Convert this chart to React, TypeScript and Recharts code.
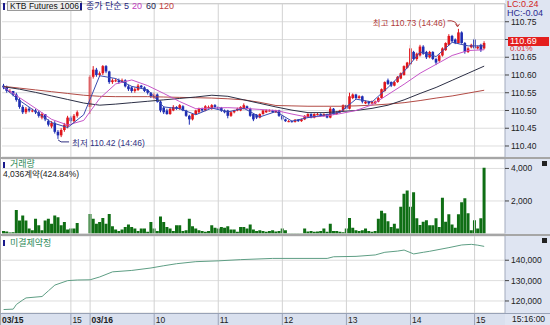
import {
  ComposedChart,
  Bar,
  Line,
  XAxis,
  YAxis,
  CartesianGrid,
  ReferenceLine,
  ReferenceDot,
} from "recharts";

const FONT = "'Liberation Sans', Arial, 'Noto Sans CJK KR', sans-serif";
const UP = "#e0161c";
const DOWN = "#1e2db3";
const VOL = "#0f6e14";
const OI = "#5e9e84";
const MA5 = "#3a4bb0";
const MA20 = "#c655c8";
const MA60 = "#2c2f45";
const MA120 = "#b24b45";
const SLOTS = 157;

// 3-minute candles, [open, high, low, close]; 03/15 = 0..23, 03/16 = 27..150
const ohlc: (number[] | null)[] = [
  [110.570, 110.575, 110.560, 110.565], [110.565, 110.570, 110.550, 110.555], [110.555, 110.560, 110.550, 110.555], [110.555, 110.555, 110.540, 110.545], [110.545, 110.550, 110.525, 110.530],
  [110.530, 110.535, 110.505, 110.510], [110.510, 110.515, 110.490, 110.495], [110.495, 110.510, 110.490, 110.505], [110.505, 110.510, 110.495, 110.500], [110.500, 110.505, 110.495, 110.500],
  [110.500, 110.505, 110.490, 110.495], [110.495, 110.500, 110.480, 110.485], [110.480, 110.495, 110.475, 110.490], [110.490, 110.490, 110.470, 110.475], [110.470, 110.475, 110.455, 110.460],
  [110.455, 110.470, 110.450, 110.465], [110.465, 110.470, 110.435, 110.440], [110.440, 110.445, 110.420, 110.430], [110.430, 110.450, 110.425, 110.445], [110.445, 110.465, 110.440, 110.460],
  [110.455, 110.485, 110.450, 110.480], [110.480, 110.485, 110.465, 110.470], [110.470, 110.490, 110.465, 110.485], [110.485, 110.500, 110.480, 110.495],
  null, null, null,
  [110.510, 110.600, 110.490, 110.595], [110.595, 110.625, 110.590, 110.615], [110.615, 110.620, 110.595, 110.600],
  [110.600, 110.610, 110.595, 110.605], [110.605, 110.628, 110.600, 110.625], [110.625, 110.628, 110.605, 110.610], [110.610, 110.612, 110.575, 110.580], [110.580, 110.590, 110.575, 110.585],
  [110.585, 110.590, 110.580, 110.585], [110.585, 110.590, 110.575, 110.580], [110.580, 110.590, 110.578, 110.585], [110.585, 110.588, 110.565, 110.568], [110.568, 110.572, 110.555, 110.560],
  [110.565, 110.568, 110.550, 110.555], [110.555, 110.565, 110.550, 110.560], [110.558, 110.575, 110.555, 110.570], [110.570, 110.572, 110.562, 110.565], [110.565, 110.568, 110.552, 110.555],
  [110.558, 110.560, 110.545, 110.550], [110.550, 110.552, 110.535, 110.540], [110.535, 110.550, 110.532, 110.545], [110.545, 110.548, 110.522, 110.525], [110.525, 110.528, 110.495, 110.500],
  [110.508, 110.512, 110.490, 110.495], [110.500, 110.505, 110.488, 110.490], [110.490, 110.508, 110.488, 110.505], [110.500, 110.515, 110.498, 110.510], [110.510, 110.512, 110.502, 110.505],
  [110.505, 110.518, 110.502, 110.515], [110.512, 110.515, 110.498, 110.500], [110.500, 110.502, 110.482, 110.485], [110.485, 110.488, 110.460, 110.475], [110.475, 110.492, 110.472, 110.490],
  [110.490, 110.502, 110.488, 110.500], [110.495, 110.508, 110.492, 110.505], [110.505, 110.508, 110.496, 110.500], [110.500, 110.515, 110.498, 110.512], [110.510, 110.514, 110.505, 110.510],
  [110.505, 110.518, 110.502, 110.515], [110.515, 110.518, 110.506, 110.510], [110.510, 110.512, 110.502, 110.505], [110.508, 110.510, 110.496, 110.500], [110.500, 110.503, 110.492, 110.495],
  [110.500, 110.502, 110.478, 110.485], [110.485, 110.498, 110.482, 110.495], [110.495, 110.502, 110.492, 110.500], [110.500, 110.508, 110.498, 110.505], [110.500, 110.512, 110.498, 110.510],
  [110.505, 110.520, 110.503, 110.515], [110.512, 110.514, 110.503, 110.505], [110.505, 110.508, 110.482, 110.485], [110.490, 110.492, 110.470, 110.475], [110.488, 110.490, 110.476, 110.480],
  [110.480, 110.492, 110.478, 110.490], [110.490, 110.502, 110.488, 110.500], [110.495, 110.503, 110.493, 110.500], [110.500, 110.503, 110.497, 110.500], [110.500, 110.502, 110.493, 110.495],
  [110.495, 110.502, 110.493, 110.500], [110.500, 110.502, 110.482, 110.485], [110.485, 110.487, 110.472, 110.475], [110.475, 110.477, 110.468, 110.470], [110.470, 110.473, 110.467, 110.470],
  [110.470, 110.472, 110.466, 110.468], [110.468, 110.476, 110.466, 110.474], [110.474, 110.476, 110.468, 110.470], [110.470, 110.477, 110.468, 110.475], [110.475, 110.487, 110.473, 110.485],
  [110.482, 110.492, 110.480, 110.490], [110.490, 110.492, 110.478, 110.480], [110.480, 110.492, 110.478, 110.490], [110.490, 110.493, 110.486, 110.490], [110.490, 110.492, 110.482, 110.485],
  [110.485, 110.492, 110.483, 110.490], [110.490, 110.491, 110.478, 110.480], [110.480, 110.510, 110.478, 110.505], [110.505, 110.507, 110.488, 110.490], [110.490, 110.498, 110.488, 110.495],
  [110.495, 110.502, 110.493, 110.500], [110.500, 110.517, 110.498, 110.515], [110.515, 110.517, 110.503, 110.505], [110.505, 110.550, 110.503, 110.540], [110.535, 110.548, 110.532, 110.545],
  [110.545, 110.547, 110.532, 110.535], [110.535, 110.543, 110.533, 110.540], [110.540, 110.542, 110.520, 110.525], [110.520, 110.528, 110.518, 110.525], [110.525, 110.527, 110.516, 110.520],
  [110.520, 110.528, 110.518, 110.525], [110.520, 110.528, 110.518, 110.525], [110.525, 110.538, 110.523, 110.535], [110.535, 110.562, 110.533, 110.560], [110.555, 110.582, 110.553, 110.580],
  [110.585, 110.590, 110.572, 110.575], [110.580, 110.582, 110.566, 110.570], [110.570, 110.583, 110.568, 110.580], [110.580, 110.597, 110.578, 110.595], [110.590, 110.607, 110.588, 110.605],
  [110.600, 110.627, 110.598, 110.625], [110.620, 110.637, 110.618, 110.635], [110.630, 110.685, 110.628, 110.675], [110.665, 110.668, 110.642, 110.645], [110.645, 110.663, 110.640, 110.660],
  [110.655, 110.685, 110.652, 110.680], [110.680, 110.684, 110.657, 110.660], [110.665, 110.668, 110.645, 110.650], [110.650, 110.668, 110.647, 110.665], [110.665, 110.667, 110.642, 110.645],
  [110.645, 110.648, 110.628, 110.635], [110.640, 110.658, 110.637, 110.655], [110.655, 110.678, 110.652, 110.675], [110.670, 110.692, 110.668, 110.690], [110.685, 110.715, 110.683, 110.710],
  [110.710, 110.713, 110.692, 110.695], [110.700, 110.703, 110.687, 110.690], [110.690, 110.730, 110.688, 110.720], [110.720, 110.723, 110.688, 110.690], [110.690, 110.693, 110.660, 110.665],
  [110.665, 110.678, 110.662, 110.675], [110.678, 110.688, 110.675, 110.685], [110.700, 110.705, 110.672, 110.675], [110.675, 110.683, 110.672, 110.680], [110.685, 110.688, 110.665, 110.670],
  [110.675, 110.695, 110.672, 110.690],
];

const volumes: (number | null)[] = [
  150, 120, 60, 80, 1450, 800, 1100, 800, 300, 200,
  900, 500, 200, 800, 900, 600, 1100, 1000, 500, 700,
  250, 300, 300, 650, null, null, null, 1200, 900, 600,
  700, 950, 600, 1200, 450, 250, 150, 250, 400, 550,
  400, 300, 150, 300, 300, 100, 700, 300, 150, 1050,
  700, 400, 300, 150, 500, 500, 150, 200, 900, 450,
  300, 200, 150, 100, 150, 500, 350, 300, 400, 350,
  450, 250, 250, 100, 400, 400, 300, 550, 250, 150,
  200, 150, 100, 150, 200, 120, 150, 300, 200, 20,
  20, 20, 20, 20, 300, 120, 150, 100, 120, 150,
  300, 100, 600, 150, 150, 100, 80, 300, 950, 350,
  200, 150, 200, 300, 150, 100, 150, 900, 1400, 1250,
  750, 400, 600, 300, 1650, 2450, 2640, 1650, 2540, 930,
  520, 720, 820, 500, 500, 930, 400, 2200, 720, 1180,
  560, 350, 1180, 1920, 2160, 1240, 200, 820, 300, 930,
  4036,
];

// moving averages read every 5 candles
const maIdx = [0, 5, 10, 15, 20, 25, 30, 35, 40, 45, 50, 55, 60, 65, 70, 75, 80, 85, 90, 95, 100, 105, 110, 115, 120, 125, 130, 135, 140, 145, 150];
const ma5 = [110.565, 110.528, 110.497, 110.466, 110.452, 110.488, 110.598, 110.590, 110.568, 110.558, 110.510, 110.505, 110.488, 110.507, 110.496, 110.506, 110.482, 110.497, 110.470, 110.480, 110.487, 110.495, 110.532, 110.524, 110.565, 110.610, 110.665, 110.652, 110.692, 110.682, 110.682];
const ma20 = [110.566, 110.536, 110.506, 110.475, 110.459, 110.472, 110.534, 110.575, 110.586, 110.570, 110.548, 110.525, 110.505, 110.507, 110.508, 110.506, 110.503, 110.500, 110.490, 110.481, 110.484, 110.491, 110.500, 110.516, 110.545, 110.574, 110.605, 110.630, 110.655, 110.669, 110.671];
const ma60 = [110.567, 110.560, 110.551, 110.541, 110.531, 110.521, 110.515, 110.518, 110.522, 110.526, 110.530, 110.534, 110.538, 110.543, 110.540, 110.530, 110.520, 110.510, 110.501, 110.494, 110.494, 110.497, 110.500, 110.506, 110.515, 110.530, 110.548, 110.565, 110.585, 110.605, 110.625];
const ma120 = [110.568, 110.563, 110.558, 110.553, 110.548, 110.543, 110.540, 110.539, 110.539, 110.539, 110.538, 110.537, 110.536, 110.535, 110.533, 110.530, 110.523, 110.514, 110.513, 110.512, 110.512, 110.512, 110.513, 110.515, 110.518, 110.522, 110.528, 110.535, 110.541, 110.549, 110.557];

// open interest
const oiIdx = [0, 3, 4, 6, 7, 12, 14, 16, 20, 23, 27, 30, 34, 40, 46, 50, 54, 60, 67, 74, 84, 101, 103, 110, 116, 119, 123, 125, 128, 131, 133, 139, 143, 146, 148, 150];
const oiVal = [115800, 116000, 118300, 120500, 121500, 122200, 125000, 127800, 130000, 130300, 130400, 131800, 134300, 135000, 136200, 137300, 138300, 139300, 139700, 140300, 140900, 140900, 141700, 141900, 142600, 143900, 144500, 145000, 143100, 143900, 144400, 146200, 147500, 147800, 147400, 146800];

const xTickIdx = [0, 21, 27, 47, 67, 87, 107, 127, 147];
const xTickLabels = ["03/15", "15", "03/16", "10", "11", "12", "13", "14", "15"];
const priceTicks = [110.4, 110.45, 110.5, 110.55, 110.6, 110.65, 110.7, 110.75];
const volTicks = [2000, 4000];
const oiTicks = [120000, 130000, 140000];

const rows = Array.from({ length: SLOTS }, (_, i) => {
  const k = ohlc[i];
  const m = maIdx.indexOf(i);
  const q = oiIdx.indexOf(i);
  return {
    i,
    o: k ? k[0] : null,
    h: k ? k[1] : null,
    l: k ? k[2] : null,
    c: k ? k[3] : null,
    hl: k ? [k[2], k[1]] : null,
    vol: volumes[i] ?? null,
    ma5: m >= 0 ? ma5[m] : null,
    ma20: m >= 0 ? ma20[m] : null,
    ma60: m >= 0 ? ma60[m] : null,
    ma120: m >= 0 ? ma120[m] : null,
    oi: q >= 0 ? oiVal[q] : null,
  };
});

const Candle = (props: any) => {
  const { x, y, width, height, payload } = props;
  if (!payload || payload.o == null) return null;
  const { o, h, l, c } = payload;
  const top = Math.min(y, y + height);
  const hh = Math.abs(height);
  const span = h - l;
  const py = (v: number) => (span > 0 ? top + ((h - v) / span) * hh : top);
  const color = c >= o ? UP : DOWN;
  const cx = x + width / 2;
  const bt = py(Math.max(o, c));
  const bb = py(Math.min(o, c));
  return (
    <g>
      <line x1={cx} x2={cx} y1={top} y2={top + hh} stroke={color} strokeWidth={1} />
      <rect x={cx - 1.3} y={bt} width={2.6} height={Math.max(bb - bt, 1)} fill={color} />
    </g>
  );
};

const TimeTick = (props: any) => {
  const { x, y, payload } = props;
  const k = xTickIdx.indexOf(payload.value);
  if (k < 0) return null;
  const label = xTickLabels[k];
  return (
    <g>
      {k > 0 && <line x1={x} x2={x} y1={y} y2={y + 12} stroke="#9aa3b8" />}
      <text
        x={k === 0 ? x - 1.5 : x + 1.5}
        y={y + 9.5}
        fontSize={8.5}
        fontFamily={FONT}
        fontWeight={label.includes("/") ? "bold" : "normal"}
        fill="#222"
      >
        {label}
      </text>
    </g>
  );
};

const LowMark = (p: any) => (
  <g>
    <path d={`M${p.cx},${p.cy + 1} L${p.cx + 3},${p.cy + 3} L${p.cx + 11},${p.cy + 3}`} stroke="#303080" fill="none" />
    <text x={p.cx + 14} y={p.cy + 7} fontSize={8.5} fontFamily={FONT} fill="#303080">
      최저 110.42 (14:46)
    </text>
  </g>
);

const HighMark = (p: any) => (
  <g>
    <path d={`M${p.cx - 11},${p.cy - 8} Q${p.cx - 3},${p.cy - 9} ${p.cx - 1},${p.cy - 3}`} stroke="#b03a3a" fill="none" />
    <path d={`M${p.cx - 3},${p.cy - 5} L${p.cx - 1},${p.cy - 2} L${p.cx + 1},${p.cy - 5}`} stroke="#b03a3a" fill="none" />
    <text x={p.cx - 13} y={p.cy - 3} fontSize={8.5} fontFamily={FONT} fill="#b03a3a" textAnchor="end">
      최고 110.73 (14:46)
    </text>
  </g>
);

const axisTick = { fontSize: 8.5, fill: "#222", fontFamily: FONT };
const fmtThousands = (v: number) => v.toLocaleString("en-US");

const abs = (left: number, top: number, extra: any = {}) => ({ position: "absolute" as const, left, top, ...extra });

export default function App() {
  return (
    <div style={{ position: "absolute", left: 0, top: 0, width: 550, height: 325, background: "#fff", overflow: "hidden", fontFamily: FONT }}>
      <div style={abs(505, 0, { width: 45, height: 325, background: "#dfe5f2" })} />
      <div style={abs(0, 313, { width: 505, height: 12, background: "#d9e0ee" })} />

      <div style={abs(0, 0)}>
        <ComposedChart width={550} height={158} data={rows} margin={{ top: 4, right: 0, bottom: 1, left: 2 }}>
          <CartesianGrid vertical={false} stroke="#dedede" />
          <XAxis dataKey="i" type="category" hide />
          <YAxis
            orientation="right"
            width={45}
            domain={[110.369, 110.8]}
            allowDataOverflow
            ticks={priceTicks}
            interval={0}
            tickFormatter={(v: number) => v.toFixed(2)}
            tick={axisTick}
            tickSize={4}
            tickMargin={2}
            tickLine={{ stroke: "#444" }}
            axisLine={{ stroke: "#a3abbd" }}
          />
          {xTickIdx.slice(1).map((t) => (
            <ReferenceLine key={t} x={t} stroke="#d2d2d2" />
          ))}
          <Line dataKey="ma120" stroke={MA120} dot={false} connectNulls strokeWidth={1} isAnimationActive={false} />
          <Line dataKey="ma60" stroke={MA60} dot={false} connectNulls strokeWidth={1} isAnimationActive={false} />
          <Line dataKey="ma20" stroke={MA20} dot={false} connectNulls strokeWidth={1} isAnimationActive={false} />
          <Line dataKey="ma5" stroke={MA5} dot={false} connectNulls strokeWidth={1} isAnimationActive={false} />
          <Bar dataKey="hl" barSize={3} shape={Candle} isAnimationActive={false} />
          <ReferenceDot x={17} y={110.42} r={0} shape={LowMark} />
          <ReferenceDot x={142} y={110.73} r={0} shape={HighMark} />
        </ComposedChart>
      </div>

      <div style={abs(0, 158)}>
        <ComposedChart width={550} height={77} data={rows} margin={{ top: 1, right: 0, bottom: 1.5, left: 2 }}>
          <CartesianGrid vertical={false} stroke="#dedede" />
          <XAxis dataKey="i" type="category" hide />
          <YAxis
            orientation="right"
            width={45}
            domain={[0, 4580]}
            allowDataOverflow
            ticks={volTicks}
            interval={0}
            tickFormatter={fmtThousands}
            tick={axisTick}
            tickSize={4}
            tickMargin={2}
            tickLine={{ stroke: "#444" }}
            axisLine={{ stroke: "#a3abbd" }}
          />
          {xTickIdx.slice(1).map((t) => (
            <ReferenceLine key={t} x={t} stroke="#d2d2d2" />
          ))}
          <Bar dataKey="vol" fill={VOL} barSize={3} isAnimationActive={false} />
        </ComposedChart>
      </div>

      <div style={abs(0, 235)}>
        <ComposedChart width={550} height={90} data={rows} margin={{ top: 1, right: 0, bottom: 0, left: 2 }}>
          <CartesianGrid vertical={false} stroke="#dedede" />
          <XAxis
            dataKey="i"
            type="category"
            height={12}
            ticks={xTickIdx}
            interval={0}
            tick={<TimeTick />}
            tickLine={false}
            axisLine={false}
            tickSize={0}
            tickMargin={0}
          />
          <YAxis
            orientation="right"
            width={45}
            domain={[114100, 151900]}
            allowDataOverflow
            ticks={oiTicks}
            interval={0}
            tickFormatter={fmtThousands}
            tick={axisTick}
            tickSize={4}
            tickMargin={2}
            tickLine={{ stroke: "#444" }}
            axisLine={{ stroke: "#a3abbd" }}
          />
          {xTickIdx.slice(1).map((t) => (
            <ReferenceLine key={t} x={t} stroke="#d2d2d2" />
          ))}
          <Bar dataKey="blank" isAnimationActive={false} />
          <Line dataKey="oi" stroke={OI} dot={false} connectNulls strokeWidth={1} isAnimationActive={false} />
        </ComposedChart>
      </div>

      {/* frame lines */}
      <div style={abs(0, 0, { width: 1, height: 325, background: "#a8a8a8" })} />
      <div style={abs(1, 3, { width: 504, height: 1, background: "#cfcfcf" })} />
      <div style={abs(0, 157, { width: 550, height: 2, background: "#a6a6a6" })} />
      <div style={abs(0, 234, { width: 550, height: 2, background: "#a6a6a6" })} />
      <div style={abs(0, 313, { width: 550, height: 1, background: "#98a2b6" })} />

      {/* legend */}
      <div style={abs(3, 3, { width: 2, height: 7, background: "#1a1a8c" })} />
      <div style={abs(7, 1, { height: 10, boxSizing: "border-box", border: "1px solid #9a9a9a", background: "#eeeeee", fontSize: 8.5, lineHeight: "8px", padding: "0 2px", color: "#111", whiteSpace: "nowrap" })}>
        KTB Futures 1006
      </div>
      <div style={abs(80, 3, { width: 2, height: 7, background: "#1a1a8c" })} />
      <div style={abs(86, 1, { fontSize: 9, lineHeight: "10px", color: "#262680", whiteSpace: "nowrap" })}>종가 단순 5</div>
      <div style={abs(132, 1, { fontSize: 9, lineHeight: "10px", color: "#c040c0" })}>20</div>
      <div style={abs(146, 1, { fontSize: 9, lineHeight: "10px", color: "#262650" })}>60</div>
      <div style={abs(159, 1, { fontSize: 9, lineHeight: "10px", color: "#c04040" })}>120</div>

      {/* volume panel labels */}
      <div style={abs(3, 162, { width: 2, height: 6, background: "#1a1a8c" })} />
      <div style={abs(10, 159, { fontSize: 9, lineHeight: "10px", color: "#2e8a58", whiteSpace: "nowrap" })}>거래량</div>
      <div style={abs(3, 168.5, { fontSize: 8.5, lineHeight: "10px", color: "#222", whiteSpace: "nowrap" })}>4,036계약(424.84%)</div>
      <div style={abs(542, 161, { width: 5, height: 5, background: "#222" })} />

      {/* open interest labels */}
      <div style={abs(3, 240, { width: 2, height: 6, background: "#1a1a8c" })} />
      <div style={abs(10, 237.5, { fontSize: 9, lineHeight: "10px", color: "#2e8a58", whiteSpace: "nowrap" })}>미결제약정</div>
      <div style={abs(542, 238, { width: 5, height: 5, background: "#222" })} />

      {/* right axis overlays */}
      <div style={abs(507, 0, { fontSize: 9, lineHeight: "9px", color: "#d02424", whiteSpace: "nowrap" })}>LC:0.24</div>
      <div style={abs(507, 8.5, { fontSize: 9, lineHeight: "9px", color: "#2a2a90", whiteSpace: "nowrap" })}>HC:-0.04</div>
      <div style={abs(508, 36.5, { width: 41, height: 9, background: "#e41e1e", color: "#fff", fontSize: 9, lineHeight: "9px", paddingLeft: 2, boxSizing: "border-box" })}>110.69</div>
      <div style={abs(510, 45, { fontSize: 8, lineHeight: "8px", color: "#e03030" })}>0.01%</div>
      <div style={abs(512, 315, { fontSize: 8.5, lineHeight: "9px", color: "#222" })}>15:16:00</div>
    </div>
  );
}
